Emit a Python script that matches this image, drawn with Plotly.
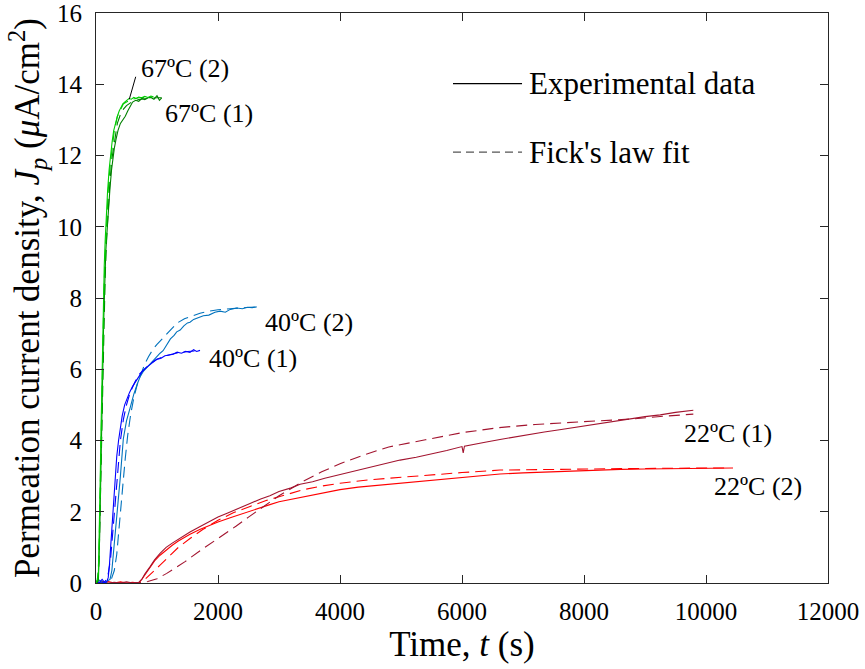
import plotly.graph_objects as go

# ---- Hydrogen permeation transients: experimental data and Fick's law fits ----
# time in s, current density in uA/cm^2

# 67 ºC, run 1
t_67_1_exp = [0, 20, 40, 50, 60, 70, 82, 95, 110, 125, 142, 160, 186, 210, 230, 255, 273, 300, 328,
              360, 400, 440, 480, 520, 560, 600, 650, 700, 750, 800, 850, 900, 950, 1000, 1040, 1077]
j_67_1_exp = [0.05, 0.0, 0.1, 0.5, 1.3, 2.2, 3.1, 4.6, 5.9, 7.3, 8.5, 9.3, 10.0, 10.7, 11.1, 11.6, 11.9,
              12.2, 12.45, 12.7, 12.9, 13.0, 13.1, 13.25, 13.4, 13.5, 13.55, 13.52, 13.6, 13.57, 13.62,
              13.63, 13.58, 13.68, 13.55, 13.62]
t_67_1_fit = [0, 30, 50, 70, 90, 110, 130, 150, 175, 200, 230, 260, 300, 350, 400, 450, 500, 600,
              700, 800, 900, 1000, 1077]
j_67_1_fit = [0, 0.05, 0.6, 2.2, 4.2, 6.0, 7.5, 8.6, 9.7, 10.5, 11.3, 11.9, 12.4, 12.9, 13.15, 13.3,
              13.4, 13.52, 13.57, 13.6, 13.61, 13.62, 13.62]

# 67 ºC, run 2
t_67_2_exp = [0, 20, 40, 50, 60, 70, 80, 92, 105, 120, 135, 150, 170, 190, 215, 240, 265, 290, 320,
              350, 380, 410, 440, 470, 500, 540, 580, 620, 660, 700, 750, 800, 850, 900, 940]
j_67_2_exp = [0.0, 0.1, 0.3, 1.0, 2.0, 3.0, 4.1, 5.4, 6.7, 8.0, 8.9, 9.6, 10.4, 11.0, 11.6, 12.1, 12.4,
              12.7, 12.95, 13.1, 13.25, 13.35, 13.45, 13.5, 13.55, 13.6, 13.58, 13.63, 13.6, 13.64,
              13.62, 13.66, 13.63, 13.67, 13.65]
t_67_2_fit = [0, 30, 50, 70, 90, 110, 130, 150, 175, 200, 230, 260, 300, 350, 400, 450, 500, 600,
              700, 800, 900, 940]
j_67_2_fit = [0, 0.1, 0.9, 2.8, 5.0, 6.8, 8.2, 9.2, 10.2, 11.0, 11.7, 12.2, 12.7, 13.1, 13.3, 13.45,
              13.5, 13.58, 13.62, 13.64, 13.65, 13.65]

# 40 ºC, run 1
t_40_1_exp = [0, 50, 100, 150, 180, 200, 220, 240, 260, 285, 311, 340, 370, 393, 430, 470, 503, 550,
              600, 639, 700, 750, 803, 860, 920, 995, 1060, 1130, 1200, 1267, 1330, 1400, 1470, 1540,
              1600, 1650, 1705]
j_40_1_exp = [0.05, 0.0, 0.1, 0.0, 0.05, 0.15, 0.5, 1.0, 1.6, 2.3, 3.0, 3.55, 4.0, 4.3, 4.7, 5.0, 5.15,
              5.35, 5.52, 5.62, 5.8, 5.92, 6.02, 6.1, 6.18, 6.28, 6.3, 6.38, 6.4, 6.42, 6.48, 6.45,
              6.5, 6.47, 6.55, 6.5, 6.53]
t_40_1_fit = [0, 100, 150, 200, 240, 270, 300, 339, 370, 400, 450, 500, 560, 640, 720, 800, 900,
              1000, 1150, 1300, 1500, 1705]
j_40_1_fit = [0, 0.0, 0.05, 0.25, 0.7, 1.3, 2.0, 2.9, 3.5, 4.0, 4.6, 5.0, 5.35, 5.65, 5.88, 6.02,
              6.17, 6.28, 6.38, 6.45, 6.5, 6.52]

# 40 ºC, run 2
t_40_2_exp = [0, 60, 120, 180, 230, 260, 290, 320, 345, 366, 400, 448, 500, 557, 620, 680, 721, 780,
              831, 885, 940, 995, 1050, 1100, 1159, 1220, 1280, 1323, 1380, 1440, 1500, 1541, 1600,
              1680, 1760, 1850, 1950, 2033, 2120, 2200, 2307, 2400, 2480, 2560, 2634]
j_40_2_exp = [0.0, 0.08, 0.0, 0.05, 0.1, 0.35, 0.9, 1.5, 1.9, 2.25, 3.0, 4.05, 4.55, 4.9, 5.3, 5.6,
              5.78, 5.95, 6.05, 6.15, 6.25, 6.35, 6.45, 6.52, 6.7, 6.85, 6.95, 7.05, 7.1, 7.22, 7.3,
              7.32, 7.4, 7.45, 7.5, 7.52, 7.6, 7.63, 7.6, 7.68, 7.72, 7.7, 7.74, 7.73, 7.75]
t_40_2_fit = [0, 150, 250, 300, 340, 380, 420, 448, 480, 520, 570, 620, 680, 740, 800, 860, 930,
              1000, 1087, 1200, 1333, 1450, 1600, 1705, 1850, 2000, 2200, 2400, 2634]
j_40_2_fit = [0, 0.0, 0.1, 0.35, 0.8, 1.5, 2.3, 2.9, 3.5, 4.15, 4.75, 5.2, 5.6, 5.9, 6.15, 6.35,
              6.55, 6.7, 6.85, 7.05, 7.3, 7.42, 7.52, 7.57, 7.63, 7.67, 7.7, 7.73, 7.75]

# 22 ºC, run 1
t_22_1_exp = [0, 100, 200, 300, 400, 500, 600, 700, 750, 800, 887, 960, 1050, 1150, 1250, 1323,
              1450, 1541, 1700, 1850, 2000, 2150, 2300, 2525, 2700, 2850, 3000, 3200, 3346, 3550,
              3750, 4000, 4250, 4500, 4750, 4985, 5250, 5500, 5750, 6000, 6020, 6040, 6200, 6400,
              6623, 6850, 7100, 7350, 7600, 7934, 8200, 8450, 8754, 9000, 9250, 9500, 9792]
j_22_1_exp = [0.0, 0.05, 0.0, 0.02, 0.0, 0.03, 0.0, 0.02, 0.1, 0.25, 0.46, 0.65, 0.83, 1.0, 1.12,
              1.2, 1.33, 1.43, 1.58, 1.72, 1.85, 1.96, 2.06, 2.23, 2.36, 2.45, 2.57, 2.67, 2.77,
              2.84, 2.94, 3.04, 3.16, 3.26, 3.36, 3.45, 3.53, 3.62, 3.72, 3.83, 3.65, 3.84, 3.9,
              3.96, 4.03, 4.1, 4.17, 4.24, 4.3, 4.39, 4.46, 4.53, 4.6, 4.67, 4.72, 4.79, 4.85]
t_22_1_fit = [0, 700, 850, 1000, 1160, 1300, 1460, 1700, 1920, 2100, 2300, 2500, 2660, 2850, 3000,
              3200, 3400, 3700, 4000, 4400, 4800, 5400, 6000, 6600, 7200, 7900, 8750, 9300, 9792]
j_22_1_fit = [0, 0, 0.04, 0.12, 0.27, 0.42, 0.6, 0.9, 1.15, 1.38, 1.6, 1.85, 2.05, 2.28, 2.45,
              2.65, 2.86, 3.12, 3.35, 3.6, 3.82, 4.02, 4.22, 4.36, 4.45, 4.52, 4.6, 4.68, 4.74]

# 22 ºC, run 2
t_22_2_exp = [0, 100, 200, 300, 400, 500, 600, 700, 750, 800, 887, 960, 1050, 1150, 1250, 1350,
              1450, 1541, 1700, 1850, 2000, 2200, 2400, 2525, 2700, 2850, 3000, 3200, 3346, 3600,
              3800, 4000, 4300, 4600, 4985, 5300, 5600, 6000, 6300, 6623, 7000, 7400, 7800, 8200,
              8600, 9000, 9400, 9800, 10100, 10443]
j_22_2_exp = [0.02, 0.0, 0.04, 0.0, 0.03, 0.0, 0.02, 0.0, 0.1, 0.22, 0.45, 0.62, 0.78, 0.93, 1.06,
              1.18, 1.28, 1.37, 1.5, 1.61, 1.71, 1.83, 1.95, 2.02, 2.12, 2.2, 2.28, 2.35, 2.41, 2.5,
              2.56, 2.62, 2.69, 2.74, 2.8, 2.86, 2.91, 2.97, 3.02, 3.06, 3.09, 3.12, 3.15, 3.17,
              3.19, 3.2, 3.21, 3.22, 3.22, 3.23]
t_22_2_fit = [0, 700, 800, 900, 1050, 1200, 1350, 1541, 1750, 2000, 2250, 2525, 2800, 3000, 3200,
              3400, 3700, 4000, 4500, 4985, 5500, 6000, 6623, 7300, 7934, 8600, 9300, 10000, 10300]
j_22_2_fit = [0, 0, 0.1, 0.25, 0.5, 0.75, 1.0, 1.25, 1.5, 1.76, 1.97, 2.15, 2.32, 2.42, 2.52, 2.62,
              2.72, 2.8, 2.9, 2.97, 3.04, 3.1, 3.17, 3.19, 3.2, 3.21, 3.22, 3.23, 3.23]

# curve labels: text, anchor time, anchor current density
curve_labels = [
    ("67ºC (2)", 705, 14.44),
    ("67ºC (1)", 1098, 13.18),
    ("40ºC (2)", 2738, 7.32),
    ("40ºC (1)", 1820, 6.31),
    ("22ºC (1)", 9601, 4.20),
    ("22ºC (2)", 10093, 2.71),
]

x_ticks = [0, 2000, 4000, 6000, 8000, 10000, 12000]
y_ticks = [0, 2, 4, 6, 8, 10, 12, 14, 16]

SERIF = "Liberation Serif, Times New Roman, serif"
AXIS_COLOR = "#262626"
DASH = "11px,6px"

series = [
    (t_22_2_exp, j_22_2_exp, t_22_2_fit, j_22_2_fit, "#ff0000"),
    (t_22_1_exp, j_22_1_exp, t_22_1_fit, j_22_1_fit, "#a2142f"),
    (t_40_2_exp, j_40_2_exp, t_40_2_fit, j_40_2_fit, "#0072bd"),
    (t_40_1_exp, j_40_1_exp, t_40_1_fit, j_40_1_fit, "#0000ff"),
    (t_67_1_exp, j_67_1_exp, t_67_1_fit, j_67_1_fit, "#008000"),
    (t_67_2_exp, j_67_2_exp, t_67_2_fit, j_67_2_fit, "#00cc00"),
]

fig = go.Figure()
for t_exp, j_exp, t_fit, j_fit, color in series:
    fig.add_trace(go.Scatter(x=t_fit, y=j_fit, mode="lines", showlegend=False,
                             line=dict(color=color, width=1.1, dash=DASH)))
    fig.add_trace(go.Scatter(x=t_exp, y=j_exp, mode="lines", showlegend=False,
                             line=dict(color=color, width=1.1)))

# curve labels
for text, tx, ty in curve_labels:
    fig.add_annotation(x=tx, y=ty, text=text, showarrow=False, xanchor="left", yanchor="middle",
                       font=dict(family=SERIF, size=26, color="black"))

# leader line for the 67 ºC (2) label
fig.add_shape(type="line", xref="x", yref="y", x0=546, y0=13.58, x1=651, y1=14.21,
              line=dict(color="black", width=1))

# legend, drawn inside the axes
legend_rows = [("Experimental data", "solid", 0.876), ("Fick's law fit", "8px,5px", 0.756)]
for label, dash, yp in legend_rows:
    fig.add_shape(type="line", xref="paper", yref="paper", x0=0.4877, x1=0.582, y0=yp, y1=yp,
                  line=dict(color="black" if dash == "solid" else "#555555", width=1.2, dash=dash))
    fig.add_annotation(xref="paper", yref="paper", x=0.5888, y=yp, text=label, showarrow=False,
                       xanchor="left", yanchor="middle",
                       font=dict(family=SERIF, size=31, color="black"))

axis_common = dict(showgrid=False, zeroline=False, showline=True, linecolor=AXIS_COLOR, linewidth=1,
                   mirror="ticks", ticks="inside", ticklen=8, tickcolor=AXIS_COLOR, tickwidth=1,
                   ticklabeloverflow="allow", automargin=False,
                   tickfont=dict(family=SERIF, size=25, color="black"))

fig.update_xaxes(range=[0, 12000], tickvals=x_ticks, ticktext=[str(v) for v in x_ticks],
                 ticklabelstandoff=6,
                 title=dict(text="Time, <i>t</i> (s)", font=dict(family=SERIF, size=35, color="black"),
                            standoff=2),
                 **axis_common)
fig.update_yaxes(range=[0, 16], tickvals=y_ticks, ticktext=[str(v) for v in y_ticks],
                 ticklabelstandoff=8,
                 title=dict(text="Permeation current density, <i>J<sub>p</sub></i> (<i>μ</i>A/cm<sup>2</sup>)",
                            font=dict(family=SERIF, size=35, color="black"), standoff=6),
                 **axis_common)

fig.update_layout(width=865, height=669, margin=dict(l=96, r=37, t=13, b=86, autoexpand=False),
                  paper_bgcolor="white", plot_bgcolor="white", showlegend=False)

fig.write_html("out.html")
